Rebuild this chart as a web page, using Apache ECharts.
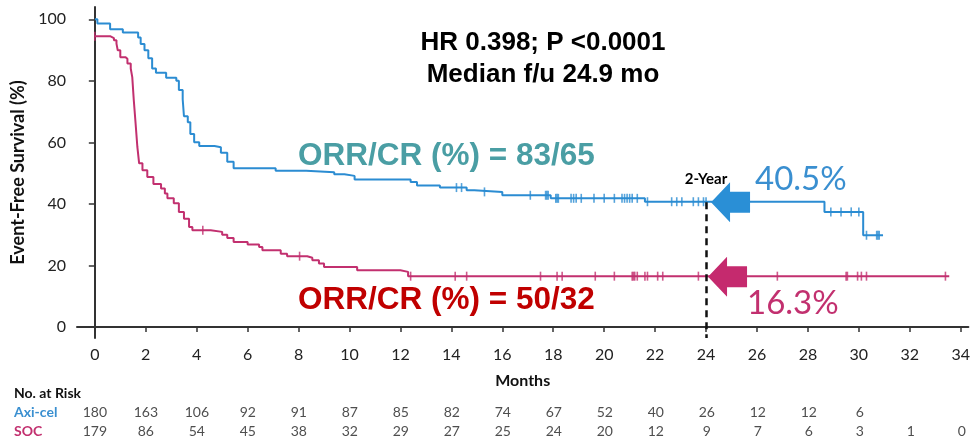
<!DOCTYPE html>
<html><head><meta charset="utf-8">
<script src="https://cdn.jsdelivr.net/npm/echarts@6/dist/echarts.min.js"></script>
<style>html,body{margin:0;padding:0;background:#fff}#c{width:973px;height:441px}</style>
</head><body><div id="c"></div>
<script>
// Kaplan-Meier step points [month, survival %]
const axiCelCurve = [[0,100],[0.1,98.6],[0.6,96.8],[1.1,95.7],[1.7,94.1],[1.8,92],[1.95,89.9],[2.1,87.3],[2.25,84],[2.4,82.6],[2.8,81],[3.2,80],[3.3,77],[3.45,74],[3.5,68.5],[3.65,66.5],[3.75,62.7],[3.9,60],[4.1,58.8],[4.7,58.4],[4.95,56.6],[5.2,53.7],[5.45,51.6],[7.1,50.8],[8.3,50.3],[9.4,49.6],[9.8,49.1],[10.2,47.9],[12.4,47.1],[12.65,46.0],[13.55,45.3],[14.6,44.4],[14.9,43.9],[16.0,42.8],[17.9,41.8],[21.6,40.7],[28.65,37.4],[30.17,29.8],[30.95,29.8]];
const socCurve = [[0,94.5],[0.6,93.9],[0.75,93.2],[0.85,92.1],[0.9,89.9],[1.0,87.7],[1.2,87.2],[1.28,85.6],[1.41,84],[1.47,81.2],[1.53,73.7],[1.6,66.2],[1.67,58.5],[1.74,53.2],[1.87,50.9],[2.06,48.7],[2.3,46.5],[2.6,45],[2.75,43.4],[2.85,41.8],[3.1,40.2],[3.3,37.4],[3.5,35.2],[3.7,32.5],[3.83,31.4],[4.55,30.9],[5.0,30],[5.2,28.9],[5.45,27.6],[6.0,26.8],[6.45,26],[6.58,24.9],[7.3,23.8],[7.55,23],[8.34,22.5],[8.54,21.7],[8.8,20.6],[9.0,19.5],[10.3,18.4],[12.0,17.9],[12.3,16.5],[33.55,16.5]];
// censoring times (months)
const axiCelCensor = [14.2,14.4,15.3,17.1,17.7,17.75,17.8,18.1,18.15,18.2,18.7,18.8,18.9,19.1,19.6,20.0,20.4,20.7,20.8,20.9,21.0,21.1,21.3,21.7,22.65,22.85,23.05,23.5,23.7,23.9,24.0,28.9,29.3,29.7,30.0,30.3,30.7,30.75,30.8];
const socCensor = [0,4.24,8.04,12.4,14.15,14.6,17.5,18.15,18.35,19.65,20.4,21.1,21.15,21.2,21.3,21.6,21.7,22.1,22.3,23.7,26.8,29.5,29.55,29.95,30.1,30.3,33.4];
const xTicks = [0,2,4,6,8,10,12,14,16,18,20,22,24,26,28,30,32,34];
const yTicks = [0,20,40,60,80,100];
const riskTimes = [0,2,4,6,8,10,12,14,16,18,20,22,24,26,28,30,32,34];
const axiCelRisk = [180,163,106,92,91,87,85,82,74,67,52,40,26,12,12,6];
const socRisk = [179,86,54,45,38,32,29,27,25,24,20,12,9,7,6,3,1,0];
const landmarkMonth = 24;
const landmarkValues = [40.5, 16.3];

const BLUE = '#2b8cd2', MAG = '#c2306f';
function stepValue(curve, t){ let v = curve[0][1]; for (const p of curve){ if (p[0] <= t) v = p[1]; else break; } return v; }

const chart = echarts.init(document.getElementById('c'), null, {renderer:'canvas'});
const riskData = [];
axiCelRisk.forEach((n,i)=>riskData.push([riskTimes[i],'Axi-cel',n]));
socRisk.forEach((n,i)=>riskData.push([riskTimes[i],'SOC',n]));

chart.setOption({
  animation:false,
  backgroundColor:'#fff',
  title:{text:'No. at Risk', left:14, top:386, padding:0, textStyle:{fontFamily:'Lato', fontWeight:'bold', fontSize:14, color:'#111'}},
  grid:[
    {left:77, right:3.5, top:7, bottom:103},
    {left:77, right:3.5, top:403.5, height:38}
  ],
  xAxis:[
    {type:'value', min:-0.7, max:34.3, gridIndex:0,
     axisLine:{lineStyle:{color:'#333', width:2}},
     axisTick:{customValues:xTicks, length:5, lineStyle:{color:'#333', width:1.5}},
     axisLabel:{customValues:xTicks, fontFamily:'Lato', fontSize:16, color:'#222', margin:9},
     splitLine:{show:false},
     name:'Months', nameLocation:'middle', nameGap:35,
     nameTextStyle:{fontFamily:'Lato', fontWeight:'bold', fontSize:16, color:'#111'}},
    {type:'value', min:-0.7, max:34.3, gridIndex:1, show:false}
  ],
  yAxis:[
    {type:'value', min:-3.6, max:104, gridIndex:0,
     axisLine:{show:true, lineStyle:{color:'#333', width:2}},
     axisTick:{show:true, customValues:yTicks, length:6, lineStyle:{color:'#333', width:1.5}},
     axisLabel:{customValues:yTicks, fontFamily:'Lato', fontSize:16, color:'#222', margin:11},
     splitLine:{show:false},
     name:'Event-Free Survival (%)', nameLocation:'middle', nameGap:47,
     nameTextStyle:{fontFamily:'Lato', fontWeight:'bold', fontSize:18, color:'#111'}},
    {type:'category', data:['Axi-cel','SOC'], inverse:true, gridIndex:1,
     axisLine:{show:false}, axisTick:{show:false}, splitLine:{show:false},
     axisLabel:{align:'left', margin:63, fontFamily:'Lato', fontWeight:'bold', fontSize:14,
       formatter:v=> v==='Axi-cel' ? '{a|'+v+'}' : '{b|'+v+'}',
       rich:{a:{color:'#3a8fd0', fontWeight:'bold', fontSize:14, fontFamily:'Lato'}, b:{color:'#c2306f', fontWeight:'bold', fontSize:14, fontFamily:'Lato'}}}}
  ],
  series:[
    {type:'line', step:'end', data:axiCelCurve, showSymbol:false, lineStyle:{color:BLUE, width:2}, z:3,
     markLine:{silent:true, symbol:['none','none'], label:{show:false},
       lineStyle:{color:'#111', type:[7,5], width:2.5},
       data:[[{coord:[landmarkMonth, landmarkValues[0]]},{coord:[landmarkMonth, -3.6]}]]}},
    {type:'line', step:'end', data:socCurve, showSymbol:false, lineStyle:{color:MAG, width:2}, z:3},
    {type:'scatter', data:axiCelCensor.map(t=>[t, stepValue(axiCelCurve,t)]), symbol:'rect', symbolSize:[1.6,9], itemStyle:{color:BLUE}, z:4},
    {type:'scatter', data:socCensor.map(t=>[t, stepValue(socCurve,t)]), symbol:'rect', symbolSize:[1.6,9], itemStyle:{color:MAG}, z:4},
    {type:'custom', z:6, data:landmarkValues.map((v,i)=>[landmarkMonth, v, i]),
     renderItem:function(params, api){
       const p = api.coord([api.value(0), api.value(1)]);
       const first = api.value(2)===0;
       const x = p[0] + (first ? 5 : 2), y = p[1];
       const col = first ? '#2a8fd6' : '#c52a6e';
       return {type:'polygon', shape:{points:[[x,y],[x+19,y-20],[x+19,y-10.5],[x+39,y-10.5],[x+39,y+10.5],[x+19,y+10.5],[x+19,y+20]]}, style:{fill:col}};
     }},
    {type:'scatter', xAxisIndex:1, yAxisIndex:1, data:riskData, symbolSize:0,
     label:{show:true, position:'inside', formatter:p=>String(p.value[2]), fontFamily:'Lato', fontSize:14, color:'#222'}}
  ],
  graphic:[
    {type:'text', style:{text:'HR 0.398; P <0.0001', x:543, y:43, textAlign:'center', textVerticalAlign:'middle', font:'bold 26px "Liberation Sans"', fill:'#000'}},
    {type:'text', style:{text:'Median f/u 24.9 mo', x:543, y:75, textAlign:'center', textVerticalAlign:'middle', font:'bold 26px "Liberation Sans"', fill:'#000'}},
    {type:'text', style:{text:'ORR/CR (%) = 83/65', x:298, y:156, textAlign:'left', textVerticalAlign:'middle', font:'bold 31.5px "Liberation Sans"', fill:'#4a9ea4'}},
    {type:'text', style:{text:'ORR/CR (%) = 50/32', x:298, y:300, textAlign:'left', textVerticalAlign:'middle', font:'bold 31.5px "Liberation Sans"', fill:'#c00000'}},
    {type:'text', style:{text:'2-Year', x:706, y:179, textAlign:'center', textVerticalAlign:'middle', font:'bold 15px Lato', fill:'#000'}},
    {type:'text', style:{text:'40.5%', x:755, y:179, textAlign:'left', textVerticalAlign:'middle', font:'33px Lato', fill:'#3a8fd0'}},
    {type:'text', style:{text:'16.3%', x:747, y:303, textAlign:'left', textVerticalAlign:'middle', font:'33px Lato', fill:'#c2306f'}}
  ]
});
</script></body></html>
